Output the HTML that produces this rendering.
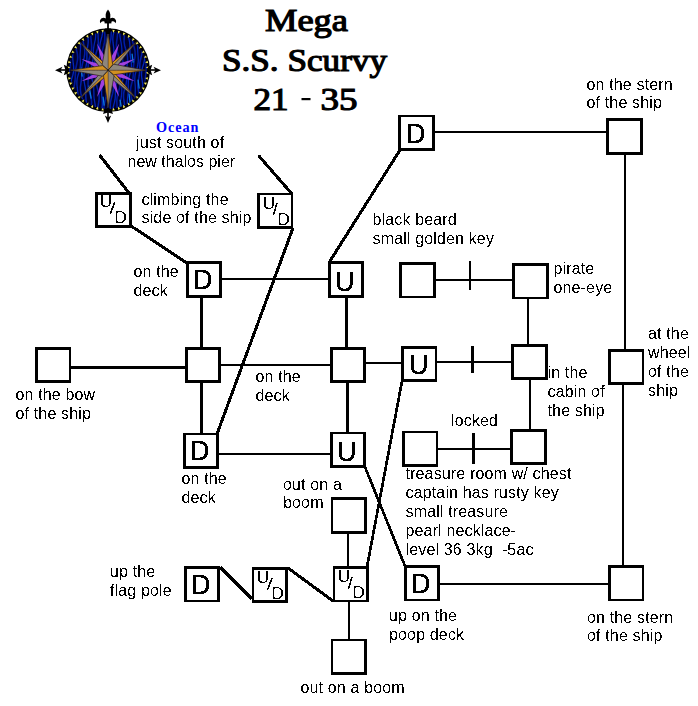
<!DOCTYPE html>
<html><head><meta charset="utf-8"><style>
html,body{margin:0;padding:0;background:#fff;width:698px;height:706px;overflow:hidden}
svg{position:absolute;left:0;top:0}
text{font-family:"Liberation Sans",sans-serif;fill:#000}
.lb{font-size:16px;letter-spacing:0.15px}
.bl{font-size:27.5px;stroke:#000;stroke-width:0.3px}
.ud{font-size:17px}
.tt{font-family:"Liberation Serif",serif;font-size:32.5px;font-weight:normal;stroke:#000;stroke-width:1.2px}
.oc{font-family:"Liberation Serif",serif;font-size:14.2px;font-weight:bold;fill:#0000ff;text-anchor:middle;letter-spacing:1.0px}
</style></head><body>
<svg width="698" height="706" viewBox="0 0 698 706">
<g transform="translate(108.1,70.2)">
<defs><clipPath id="cc"><circle r="39"/></clipPath></defs>
<circle r="41.9" fill="#000"/>
<circle r="39" fill="#00002c"/>
<g clip-path="url(#cc)" fill="none">
<polyline points="-41.6,-40 -41.3,-37 -41.1,-34 -41.1,-31 -41.2,-28 -41.2,-25 -40.9,-22 -40.2,-19 -39.3,-16 -38.5,-13 -38.0,-10 -37.8,-7 -38.1,-4 -38.6,-1 -39.0,2 -39.2,5 -39.2,8 -39.2,11 -39.4,14 -39.9,17 -40.6,20 -41.5,23 -42.1,26 -42.3,29 -42.1,32 -41.6,35 -41.0,38 -40.6,41" stroke="#001ea8" stroke-width="1.5" stroke-linejoin="round"/>
<polyline points="-38.6,-40 -38.6,-37 -38.2,-34 -37.5,-31 -36.6,-28 -35.9,-25 -35.5,-22 -35.3,-19 -35.4,-16 -35.4,-13 -35.2,-10 -34.9,-7 -34.5,-4 -34.4,-1 -34.6,2 -35.3,5 -36.2,8 -37.0,11 -37.6,14 -37.9,17 -37.8,20 -37.7,23 -37.6,26 -37.7,29 -38.0,32 -38.1,35 -38.0,38 -37.5,41" stroke="#0026bc" stroke-width="1.3" stroke-linejoin="round"/>
<polyline points="-33.8,-40 -33.4,-37 -33.3,-34 -33.3,-31 -33.1,-28 -32.7,-25 -32.1,-22 -31.3,-19 -30.7,-16 -30.4,-13 -30.6,-10 -31.2,-7 -31.8,-4 -32.4,-1 -32.7,2 -32.8,5 -32.9,8 -33.1,11 -33.5,14 -34.2,17 -34.8,20 -35.2,23 -35.1,26 -34.6,29 -33.8,32 -33.1,35 -32.6,38 -32.3,41" stroke="#001898" stroke-width="1.6" stroke-linejoin="round"/>
<polyline points="-30.8,-40 -30.2,-37 -29.3,-34 -28.4,-31 -27.7,-28 -27.5,-25 -27.6,-22 -27.8,-19 -28.0,-16 -28.0,-13 -27.8,-10 -27.7,-7 -27.8,-4 -28.3,-1 -29.1,2 -30.0,5 -30.8,8 -31.2,11 -31.2,14 -30.9,17 -30.5,20 -30.2,23 -30.2,26 -30.3,29 -30.2,32 -29.9,35 -29.3,38 -28.4,41" stroke="#0022b0" stroke-width="1.3" stroke-linejoin="round"/>
<polyline points="-25.4,-40 -25.3,-37 -25.3,-34 -25.1,-31 -24.8,-28 -24.2,-25 -23.6,-22 -23.3,-19 -23.4,-16 -23.9,-13 -24.7,-10 -25.5,-7 -26.1,-4 -26.4,-1 -26.4,2 -26.4,5 -26.5,8 -26.9,11 -27.3,14 -27.7,17 -27.7,20 -27.3,23 -26.6,26 -25.7,29 -24.9,32 -24.5,35 -24.3,38 -24.4,41" stroke="#001ea8" stroke-width="1.5" stroke-linejoin="round"/>
<polyline points="-22.0,-40 -21.1,-37 -20.3,-34 -19.9,-31 -19.9,-28 -20.2,-25 -20.7,-22 -21.1,-19 -21.2,-16 -21.2,-13 -21.3,-10 -21.5,-7 -22.1,-4 -22.9,-1 -23.7,2 -24.2,5 -24.3,8 -24.0,11 -23.5,14 -22.9,17 -22.5,20 -22.3,23 -22.3,26 -22.1,29 -21.8,32 -21.2,35 -20.4,38 -19.8,41" stroke="#0026bc" stroke-width="1.3" stroke-linejoin="round"/>
<polyline points="-17.3,-40 -17.4,-37 -17.3,-34 -17.1,-31 -16.8,-28 -16.5,-25 -16.4,-22 -16.8,-19 -17.5,-16 -18.4,-13 -19.3,-10 -19.8,-7 -19.9,-4 -19.8,-1 -19.6,2 -19.6,5 -19.8,8 -20.0,11 -20.1,14 -19.9,17 -19.2,20 -18.4,23 -17.5,26 -16.8,29 -16.5,32 -16.6,35 -16.9,38 -17.2,41" stroke="#001898" stroke-width="1.6" stroke-linejoin="round"/>
<polyline points="-13.1,-40 -12.5,-37 -12.4,-34 -12.7,-31 -13.4,-28 -14.0,-25 -14.5,-22 -14.8,-19 -14.8,-16 -14.9,-13 -15.2,-10 -15.7,-7 -16.4,-4 -16.9,-1 -17.2,2 -17.0,5 -16.4,8 -15.6,11 -14.9,14 -14.4,17 -14.3,20 -14.2,23 -14.2,26 -13.9,29 -13.4,32 -12.9,35 -12.6,38 -12.6,41" stroke="#0022b0" stroke-width="1.3" stroke-linejoin="round"/>
<polyline points="-9.9,-40 -10.0,-37 -10.0,-34 -9.8,-31 -9.8,-28 -9.9,-25 -10.5,-22 -11.4,-19 -12.3,-16 -13.0,-13 -13.2,-10 -13.1,-7 -12.8,-4 -12.4,-1 -12.2,2 -12.2,5 -12.2,8 -12.1,11 -11.7,14 -11.0,17 -10.2,20 -9.4,23 -9.0,26 -9.0,29 -9.4,32 -9.9,35 -10.4,38 -10.6,41" stroke="#001ea8" stroke-width="1.5" stroke-linejoin="round"/>
<polyline points="-5.3,-40 -5.5,-37 -6.1,-34 -6.9,-31 -7.7,-28 -8.2,-25 -8.4,-22 -8.4,-19 -8.4,-16 -8.6,-13 -9.0,-10 -9.4,-7 -9.7,-4 -9.6,-1 -9.1,2 -8.3,5 -7.4,8 -6.7,11 -6.4,14 -6.3,17 -6.4,20 -6.5,23 -6.3,26 -6.0,29 -5.8,32 -5.8,35 -6.1,38 -6.9,41" stroke="#0026bc" stroke-width="1.3" stroke-linejoin="round"/>
<polyline points="-3.1,-40 -3.3,-37 -3.3,-34 -3.3,-31 -3.7,-28 -4.3,-25 -5.1,-22 -5.9,-19 -6.3,-16 -6.3,-13 -5.9,-10 -5.3,-7 -4.7,-4 -4.4,-1 -4.3,2 -4.2,5 -4.0,8 -3.6,11 -3.0,14 -2.2,17 -1.7,20 -1.6,23 -1.9,26 -2.6,29 -3.3,32 -3.9,35 -4.2,38 -4.3,41" stroke="#001898" stroke-width="1.6" stroke-linejoin="round"/>
<polyline points="1.0,-40 0.2,-37 -0.7,-34 -1.5,-31 -1.9,-28 -1.9,-25 -1.8,-22 -1.6,-19 -1.6,-16 -1.8,-13 -2.0,-10 -2.0,-7 -1.7,-4 -1.0,-1 -0.1,2 0.8,5 1.3,8 1.5,11 1.3,14 1.0,17 0.8,20 0.7,23 0.8,26 0.9,29 0.7,32 0.1,35 -0.7,38 -1.6,41" stroke="#0022b0" stroke-width="1.3" stroke-linejoin="round"/>
<polyline points="3.2,-40 3.1,-37 3.0,-34 2.7,-31 2.1,-28 1.5,-25 1.0,-22 0.8,-19 1.2,-16 1.8,-13 2.6,-10 3.3,-7 3.7,-4 3.8,-1 3.8,2 3.9,5 4.3,8 4.8,11 5.2,14 5.5,17 5.2,20 4.6,23 3.8,26 3.0,29 2.4,32 2.2,35 2.2,38 2.2,41" stroke="#001ea8" stroke-width="1.5" stroke-linejoin="round"/>
<polyline points="6.4,-40 5.5,-37 4.9,-34 4.7,-31 4.9,-28 5.3,-25 5.7,-22 5.8,-19 5.8,-16 5.8,-13 6.0,-10 6.4,-7 7.2,-4 8.1,-1 8.8,2 9.1,5 8.9,8 8.5,11 8.0,14 7.5,17 7.4,20 7.3,23 7.2,26 7.0,29 6.4,32 5.6,35 4.9,38 4.5,41" stroke="#0026bc" stroke-width="1.3" stroke-linejoin="round"/>
<polyline points="9.5,-40 9.5,-37 9.3,-34 8.9,-31 8.5,-28 8.3,-25 8.5,-22 9.1,-19 9.9,-16 10.8,-13 11.4,-10 11.7,-7 11.7,-4 11.6,-1 11.6,2 11.7,5 12.0,8 12.2,11 12.2,14 11.7,17 10.9,20 10.0,23 9.2,26 8.8,29 8.7,32 8.9,35 9.1,38 9.2,41" stroke="#001898" stroke-width="1.6" stroke-linejoin="round"/>
<polyline points="12.0,-40 11.7,-37 11.8,-34 12.3,-31 12.9,-28 13.4,-25 13.7,-22 13.8,-19 13.9,-16 14.1,-13 14.6,-10 15.2,-7 15.9,-4 16.3,-1 16.3,2 15.9,5 15.2,8 14.5,11 14.0,14 13.7,17 13.7,20 13.6,23 13.3,26 12.8,29 12.2,32 11.8,35 11.7,38 12.0,41" stroke="#0022b0" stroke-width="1.3" stroke-linejoin="round"/>
<polyline points="16.4,-40 16.4,-37 16.2,-34 16.0,-31 16.0,-28 16.5,-25 17.3,-22 18.2,-19 19.0,-16 19.4,-13 19.5,-10 19.3,-7 18.9,-4 18.7,-1 18.7,2 18.8,5 18.8,8 18.5,11 17.9,14 17.1,17 16.2,20 15.6,23 15.4,26 15.6,29 16.1,32 16.5,35 16.8,38 16.8,41" stroke="#001ea8" stroke-width="1.5" stroke-linejoin="round"/>
<polyline points="18.9,-40 19.3,-37 20.1,-34 20.9,-31 21.5,-28 21.8,-25 21.8,-22 21.9,-19 22.0,-16 22.4,-13 22.9,-10 23.3,-7 23.4,-4 23.1,-1 22.4,2 21.5,5 20.7,8 20.3,11 20.1,14 20.1,17 20.2,20 20.0,23 19.7,26 19.4,29 19.2,32 19.4,35 20.0,38 20.9,41" stroke="#0026bc" stroke-width="1.3" stroke-linejoin="round"/>
<polyline points="23.9,-40 23.9,-37 23.9,-34 24.1,-31 24.7,-28 25.5,-25 26.3,-22 26.9,-19 27.1,-16 26.9,-13 26.3,-10 25.8,-7 25.4,-4 25.3,-1 25.3,2 25.2,5 24.8,8 24.2,11 23.4,14 22.7,17 22.4,20 22.6,23 23.1,26 23.8,29 24.3,32 24.7,35 24.8,38 24.9,41" stroke="#001898" stroke-width="1.6" stroke-linejoin="round"/>
<polyline points="27.3,-40 28.2,-37 29.0,-34 29.6,-31 29.8,-28 29.7,-25 29.6,-22 29.6,-19 29.8,-16 30.1,-13 30.2,-10 30.0,-7 29.5,-4 28.6,-1 27.7,2 27.0,5 26.7,8 26.7,11 27.0,14 27.2,17 27.2,20 27.1,23 27.0,26 27.0,29 27.4,32 28.2,35 29.1,38 29.9,41" stroke="#0022b0" stroke-width="1.3" stroke-linejoin="round"/>
<polyline points="31.8,-40 31.9,-37 32.2,-34 32.7,-31 33.4,-28 34.1,-25 34.4,-22 34.3,-19 33.7,-16 33.0,-13 32.3,-10 31.8,-7 31.7,-4 31.6,-1 31.5,2 31.2,5 30.7,8 30.1,11 29.7,14 29.7,17 30.2,20 31.0,23 31.8,26 32.4,29 32.8,32 32.8,35 32.8,38 32.9,41" stroke="#001ea8" stroke-width="1.5" stroke-linejoin="round"/>
<polyline points="36.4,-40 37.2,-37 37.5,-34 37.5,-31 37.2,-28 36.9,-25 36.7,-22 36.7,-19 36.8,-16 36.7,-13 36.4,-10 35.7,-7 34.8,-4 34.0,-1 33.5,2 33.4,5 33.7,8 34.2,11 34.6,14 34.8,17 34.9,20 34.9,23 35.1,26 35.6,29 36.4,32 37.2,35 37.8,38 37.9,41" stroke="#0026bc" stroke-width="1.3" stroke-linejoin="round"/>
<polyline points="39.9,-40 40.1,-37 40.5,-34 41.0,-31 41.4,-28 41.4,-25 40.9,-22 40.1,-19 39.3,-16 38.6,-13 38.2,-10 38.1,-7 38.1,-4 38.1,-1 38.0,2 37.6,5 37.3,8 37.2,11 37.5,14 38.2,17 39.1,20 40.0,23 40.6,26 40.7,29 40.7,32 40.5,35 40.4,38 40.5,41" stroke="#001898" stroke-width="1.6" stroke-linejoin="round"/>
<line x1="-19" y1="16" x2="-17" y2="28" stroke="#0a78e0" stroke-width="1.3" stroke-linecap="round"/>
<line x1="24" y1="-16" x2="25" y2="-8" stroke="#0a78e0" stroke-width="1.3" stroke-linecap="round"/>
<line x1="21" y1="24" x2="22" y2="33" stroke="#0a78e0" stroke-width="1.3" stroke-linecap="round"/>
<line x1="-27" y1="-2" x2="-26" y2="6" stroke="#0a78e0" stroke-width="1.3" stroke-linecap="round"/>
<line x1="-5" y1="27" x2="-4" y2="35" stroke="#0a78e0" stroke-width="1.3" stroke-linecap="round"/>
<line x1="12" y1="30" x2="13" y2="36" stroke="#0a78e0" stroke-width="1.3" stroke-linecap="round"/>
<line x1="30" y1="10" x2="31" y2="18" stroke="#0a78e0" stroke-width="1.3" stroke-linecap="round"/>
</g>
<path d="M40.42 4.02L40.59 1.52L37.71 2.58z" fill="#f4ec58"/>
<path d="M39.50 9.48L40.01 7.04L37.01 7.69z" fill="#f4ec58"/>
<path d="M37.84 14.77L38.67 12.42L35.62 12.66z" fill="#f4ec58"/>
<path d="M35.47 19.79L36.62 17.57L33.56 17.39z" fill="#f4ec58"/>
<path d="M32.45 24.43L33.89 22.39L30.88 21.80z" fill="#f4ec58"/>
<path d="M28.82 28.63L30.53 26.80L27.63 25.80z" fill="#f4ec58"/>
<path d="M24.65 32.28L26.59 30.71L23.86 29.32z" fill="#f4ec58"/>
<path d="M20.03 35.34L22.16 34.04L19.64 32.30z" fill="#f4ec58"/>
<path d="M15.03 37.74L17.32 36.74L15.06 34.67z" fill="#f4ec58"/>
<path d="M9.75 39.43L12.16 38.76L10.20 36.40z" fill="#f4ec58"/>
<path d="M4.29 40.39L6.77 40.05L5.15 37.45z" fill="#f4ec58"/>
<path d="M-1.25 40.60L1.25 40.60L0.00 37.80z" fill="#f4ec58"/>
<path d="M-6.77 40.05L-4.29 40.39L-5.15 37.45z" fill="#f4ec58"/>
<path d="M-12.16 38.76L-9.75 39.43L-10.20 36.40z" fill="#f4ec58"/>
<path d="M-17.32 36.74L-15.03 37.74L-15.06 34.67z" fill="#f4ec58"/>
<path d="M-22.16 34.04L-20.03 35.34L-19.64 32.30z" fill="#f4ec58"/>
<path d="M-26.59 30.71L-24.65 32.28L-23.86 29.32z" fill="#f4ec58"/>
<path d="M-30.53 26.80L-28.82 28.63L-27.63 25.80z" fill="#f4ec58"/>
<path d="M-33.89 22.39L-32.45 24.43L-30.88 21.80z" fill="#f4ec58"/>
<path d="M-36.62 17.57L-35.47 19.79L-33.56 17.39z" fill="#f4ec58"/>
<path d="M-38.67 12.42L-37.84 14.77L-35.62 12.66z" fill="#f4ec58"/>
<path d="M-40.01 7.04L-39.50 9.48L-37.01 7.69z" fill="#f4ec58"/>
<path d="M-40.59 1.52L-40.42 4.02L-37.71 2.58z" fill="#f4ec58"/>
<path d="M-40.42 -4.02L-40.59 -1.52L-37.71 -2.58z" fill="#f4ec58"/>
<path d="M-39.50 -9.48L-40.01 -7.04L-37.01 -7.69z" fill="#f4ec58"/>
<path d="M-37.84 -14.77L-38.67 -12.42L-35.62 -12.66z" fill="#f4ec58"/>
<path d="M-35.47 -19.79L-36.62 -17.57L-33.56 -17.39z" fill="#f4ec58"/>
<path d="M-32.45 -24.43L-33.89 -22.39L-30.88 -21.80z" fill="#f4ec58"/>
<path d="M-28.82 -28.63L-30.53 -26.80L-27.63 -25.80z" fill="#f4ec58"/>
<path d="M-24.65 -32.28L-26.59 -30.71L-23.86 -29.32z" fill="#f4ec58"/>
<path d="M-20.03 -35.34L-22.16 -34.04L-19.64 -32.30z" fill="#f4ec58"/>
<path d="M-15.03 -37.74L-17.32 -36.74L-15.06 -34.67z" fill="#f4ec58"/>
<path d="M-9.75 -39.43L-12.16 -38.76L-10.20 -36.40z" fill="#f4ec58"/>
<path d="M-4.29 -40.39L-6.77 -40.05L-5.15 -37.45z" fill="#f4ec58"/>
<path d="M1.25 -40.60L-1.25 -40.60L0.00 -37.80z" fill="#f4ec58"/>
<path d="M6.77 -40.05L4.29 -40.39L5.15 -37.45z" fill="#f4ec58"/>
<path d="M12.16 -38.76L9.75 -39.43L10.20 -36.40z" fill="#f4ec58"/>
<path d="M17.32 -36.74L15.03 -37.74L15.06 -34.67z" fill="#f4ec58"/>
<path d="M22.16 -34.04L20.03 -35.34L19.64 -32.30z" fill="#f4ec58"/>
<path d="M26.59 -30.71L24.65 -32.28L23.86 -29.32z" fill="#f4ec58"/>
<path d="M30.53 -26.80L28.82 -28.63L27.63 -25.80z" fill="#f4ec58"/>
<path d="M33.89 -22.39L32.45 -24.43L30.88 -21.80z" fill="#f4ec58"/>
<path d="M36.62 -17.57L35.47 -19.79L33.56 -17.39z" fill="#f4ec58"/>
<path d="M38.67 -12.42L37.84 -14.77L35.62 -12.66z" fill="#f4ec58"/>
<path d="M40.01 -7.04L39.50 -9.48L37.01 -7.69z" fill="#f4ec58"/>
<path d="M40.59 -1.52L40.42 -4.02L37.71 -2.58z" fill="#f4ec58"/>
<path d="M2.94 -12.85L11.10 -26.79L7.01 -11.17L0 0z" fill="#a040e0"/>
<path d="M11.17 -7.01L26.79 -11.10L12.85 -2.94L0 0z" fill="#a040e0"/>
<path d="M12.85 2.94L26.79 11.10L11.17 7.01L0 0z" fill="#a040e0"/>
<path d="M7.01 11.17L11.10 26.79L2.94 12.85L0 0z" fill="#a040e0"/>
<path d="M-2.94 12.85L-11.10 26.79L-7.01 11.17L0 0z" fill="#a040e0"/>
<path d="M-11.17 7.01L-26.79 11.10L-12.85 2.94L0 0z" fill="#a040e0"/>
<path d="M-12.85 -2.94L-26.79 -11.10L-11.17 -7.01L0 0z" fill="#a040e0"/>
<path d="M-7.01 -11.17L-11.10 -26.79L-2.94 -12.85L0 0z" fill="#a040e0"/>
<path d="M0 0L3.82 -7.50L27.93 -27.93z" fill="#d29020"/>
<path d="M0 0L8.20 -3.11L27.93 -27.93z" fill="#8e867c"/>
<path d="M0 0L3.82 -7.50L27.93 -27.93L8.20 -3.11z" fill="none" stroke="#2a2018" stroke-width="0.7"/>
<path d="M0 0L27.93 -27.93" stroke="#3a3028" stroke-width="0.5"/>
<path d="M0 0L7.50 3.82L27.93 27.93z" fill="#d29020"/>
<path d="M0 0L3.11 8.20L27.93 27.93z" fill="#8e867c"/>
<path d="M0 0L7.50 3.82L27.93 27.93L3.11 8.20z" fill="none" stroke="#2a2018" stroke-width="0.7"/>
<path d="M0 0L27.93 27.93" stroke="#3a3028" stroke-width="0.5"/>
<path d="M0 0L-3.82 7.50L-27.93 27.93z" fill="#d29020"/>
<path d="M0 0L-8.20 3.11L-27.93 27.93z" fill="#8e867c"/>
<path d="M0 0L-3.82 7.50L-27.93 27.93L-8.20 3.11z" fill="none" stroke="#2a2018" stroke-width="0.7"/>
<path d="M0 0L-27.93 27.93" stroke="#3a3028" stroke-width="0.5"/>
<path d="M0 0L-8.20 -3.11L-27.93 -27.93z" fill="#8e867c"/>
<path d="M0 0L-3.82 -7.50L-27.93 -27.93z" fill="#d29020"/>
<path d="M0 0L-8.20 -3.11L-27.93 -27.93L-3.82 -7.50z" fill="none" stroke="#2a2018" stroke-width="0.7"/>
<path d="M0 0L-27.93 -27.93" stroke="#3a3028" stroke-width="0.5"/>
<path d="M0 0L-6.00 -5.50L0.00 -37.50z" fill="#8e867c"/>
<path d="M0 0L4.60 -5.50L0.00 -37.50z" fill="#d29020"/>
<path d="M0 0L-6.00 -5.50L0.00 -37.50L4.60 -5.50z" fill="none" stroke="#2a2018" stroke-width="0.7"/>
<path d="M0 0L0.00 -37.50" stroke="#3a3028" stroke-width="0.5"/>
<path d="M0 0L5.50 -6.00L37.50 -0.00z" fill="#8e867c"/>
<path d="M0 0L5.50 4.60L37.50 -0.00z" fill="#d29020"/>
<path d="M0 0L5.50 -6.00L37.50 -0.00L5.50 4.60z" fill="none" stroke="#2a2018" stroke-width="0.7"/>
<path d="M0 0L37.50 -0.00" stroke="#3a3028" stroke-width="0.5"/>
<path d="M0 0L6.00 5.50L0.00 37.50z" fill="#8e867c"/>
<path d="M0 0L-4.60 5.50L0.00 37.50z" fill="#d29020"/>
<path d="M0 0L6.00 5.50L0.00 37.50L-4.60 5.50z" fill="none" stroke="#2a2018" stroke-width="0.7"/>
<path d="M0 0L0.00 37.50" stroke="#3a3028" stroke-width="0.5"/>
<path d="M0 0L-5.50 6.00L-37.50 0.00z" fill="#8e867c"/>
<path d="M0 0L-5.50 -4.60L-37.50 0.00z" fill="#d29020"/>
<path d="M0 0L-5.50 6.00L-37.50 0.00L-5.50 -4.60z" fill="none" stroke="#2a2018" stroke-width="0.7"/>
<path d="M0 0L-37.50 0.00" stroke="#3a3028" stroke-width="0.5"/>
<circle r="1" fill="#202020"/>
</g>
<g fill="#000">
<rect x="148" y="69.2" width="10" height="1.6"/>
<rect x="58" y="69.2" width="10" height="1.6"/>
<rect x="107.2" y="109" width="1.6" height="9"/>
<rect x="107.1" y="19" width="1.8" height="12"/>
<path d="M161 70.2 L153.5 66.8 L155.5 70.2 L153.5 73.6 Z"/>
<path d="M55 70.2 L62.5 66.8 L60.5 70.2 L62.5 73.6 Z"/>
<path d="M108 123 L104.8 115.5 L108 117.5 L111.2 115.5 Z"/>
<path d="M146.5 70 L148.5 66.5 L152.2 64.8 L150.6 70 L152.2 75.2 L148.5 73.5 Z"/>
<path d="M69.5 70 L67.5 66.5 L63.8 64.8 L65.4 70 L63.8 75.2 L67.5 73.5 Z"/>
<path d="M108 107.5 L111.5 110 L113 114 L108 112.6 L103 114 L104.5 110 Z"/>
<path d="M108 9.6 C105.4 12.4 105 16 106.4 20.6 L109.6 20.6 C111 16 110.6 12.4 108 9.6 Z"/>
<path d="M107.4 19.8 C105.2 17.2 101.6 17 100 20.4 C99.7 21.4 100.1 22.8 100.8 23.2 C101.2 21.6 102.6 20.9 104.2 21.6 L107.4 23.6 Z"/>
<path d="M108.6 19.8 C110.8 17.2 114.4 17 116 20.4 C116.3 21.4 115.9 22.8 115.2 23.2 C114.8 21.6 113.4 20.9 111.8 21.6 L108.6 23.6 Z"/>
<rect x="104.6" y="21.4" width="6.8" height="2"/>
<path d="M105 28.5 L111 28.5 L110 34 L106 34 Z"/>
</g>
<path d="M435 131h171v2h-171zM222 278h106v2h-106zM436 279h76v2h-76zM469 261h2v29h-2zM71 366h114v3h-114zM221 364h109v2h-109zM366 362h35v2h-35zM437 361h74v2h-74zM471 346h3v27h-3zM219 453h111v2h-111zM438 448h72v2h-72zM472 433h3v31h-3zM440 583h168v2h-168zM200 298h3v49h-3zM200 383h3v50h-3zM345 298h3v49h-3zM346 383h3v49h-3zM347 534h2v32h-2zM348 602h2v37h-2zM527 299h2v45h-2zM529 380h2v49h-2zM624 155h2v194h-2zM622 385h2v180h-2zM398 115h37v2h-37zM398 148h37v3h-37zM398 115h3v36h-3zM432 115h3v36h-3zM606 118h37v3h-37zM606 152h37v3h-37zM606 118h3v37h-3zM640 118h3v37h-3zM95 192h37v3h-37zM95 225h37v3h-37zM95 192h3v36h-3zM129 192h3v36h-3zM257 193h36v2h-36zM257 226h36v3h-36zM257 193h3v36h-3zM291 193h2v36h-2zM186 261h36v3h-36zM186 295h36v3h-36zM186 261h3v37h-3zM219 261h3v37h-3zM328 261h36v3h-36zM328 295h36v3h-36zM328 261h3v37h-3zM361 261h3v37h-3zM399 262h37v3h-37zM399 296h37v2h-37zM399 262h3v36h-3zM433 262h3v36h-3zM512 263h37v3h-37zM512 297h37v2h-37zM512 263h3v36h-3zM546 263h3v36h-3zM35 347h36v3h-36zM35 380h36v3h-36zM35 347h3v36h-3zM69 347h2v36h-2zM185 347h36v3h-36zM185 380h36v3h-36zM185 347h3v36h-3zM218 347h3v36h-3zM330 347h36v3h-36zM330 380h36v3h-36zM330 347h3v36h-3zM363 347h3v36h-3zM401 346h36v3h-36zM401 379h36v3h-36zM401 346h3v36h-3zM435 346h2v36h-2zM511 344h37v3h-37zM511 377h37v3h-37zM511 344h3v36h-3zM545 344h3v36h-3zM608 349h36v3h-36zM608 382h36v3h-36zM608 349h3v36h-3zM642 349h2v36h-2zM183 433h36v2h-36zM183 466h36v3h-36zM183 433h3v36h-3zM216 433h3v36h-3zM330 432h36v2h-36zM330 465h36v3h-36zM330 432h3v36h-3zM363 432h3v36h-3zM402 431h36v2h-36zM402 464h36v3h-36zM402 431h3v36h-3zM436 431h2v36h-2zM510 429h37v3h-37zM510 462h37v3h-37zM510 429h3v36h-3zM544 429h3v36h-3zM331 497h36v3h-36zM331 531h36v3h-36zM331 497h2v37h-2zM364 497h3v37h-3zM184 566h36v3h-36zM184 600h36v2h-36zM184 566h3v36h-3zM217 566h3v36h-3zM252 567h36v3h-36zM252 600h36v3h-36zM252 567h2v36h-2zM285 567h3v36h-3zM333 566h36v3h-36zM333 600h36v2h-36zM333 566h2v36h-2zM366 566h3v36h-3zM404 565h36v3h-36zM404 599h36v2h-36zM404 565h3v36h-3zM437 565h3v36h-3zM608 565h36v3h-36zM608 599h36v2h-36zM608 565h3v36h-3zM642 565h2v36h-2zM331 639h36v2h-36zM331 672h36v3h-36zM331 639h2v36h-2zM364 639h3v36h-3z" fill="#000" shape-rendering="crispEdges"/>
<defs><filter id="crisp" x="0" y="0" width="698" height="706" filterUnits="userSpaceOnUse"><feComponentTransfer><feFuncA type="discrete" tableValues="0 1"/></feComponentTransfer></filter></defs>
<g filter="url(#crisp)">
<line x1="99.5" y1="155" x2="129" y2="193" stroke="#000" stroke-width="3"/>
<line x1="258.5" y1="155.5" x2="292" y2="194" stroke="#000" stroke-width="3"/>
<line x1="131" y1="226" x2="187" y2="263" stroke="#000" stroke-width="3"/>
<line x1="293" y1="228" x2="217" y2="434" stroke="#000" stroke-width="3"/>
<line x1="330" y1="261" x2="400" y2="150" stroke="#000" stroke-width="3"/>
<line x1="402" y1="381" x2="367" y2="567" stroke="#000" stroke-width="2.7"/>
<line x1="365" y1="467" x2="405" y2="566" stroke="#000" stroke-width="2.7"/>
<line x1="220" y1="567" x2="252" y2="599" stroke="#000" stroke-width="3"/>
<line x1="288" y1="568" x2="333" y2="601" stroke="#000" stroke-width="3"/>
<text x="405.7" y="143.3" class="bl">D</text>
<text x="192.7" y="289.3" class="bl">D</text>
<text x="334.7" y="291.3" class="bl">U</text>
<text x="408.7" y="374.3" class="bl">U</text>
<text x="189.7" y="460.3" class="bl">D</text>
<text x="336.7" y="461.3" class="bl">U</text>
<text x="190.7" y="594.3" class="bl">D</text>
<text x="410.7" y="593.3" class="bl">D</text>
<text x="99.8" y="207" class="ud">U</text>
<line x1="114.7" y1="202" x2="110.5" y2="213.5" stroke="#000" stroke-width="1.5"/>
<text x="114.6" y="223" class="ud">D</text>
<text x="262.8" y="209" class="ud">U</text>
<line x1="277" y1="203" x2="273.5" y2="214.5" stroke="#000" stroke-width="1.5"/>
<text x="277.6" y="225" class="ud">D</text>
<text x="256.8" y="583" class="ud">U</text>
<line x1="272" y1="578" x2="267.5" y2="590" stroke="#000" stroke-width="1.5"/>
<text x="271.6" y="599" class="ud">D</text>
<text x="337.8" y="582" class="ud">U</text>
<line x1="352" y1="577" x2="348.5" y2="588.5" stroke="#000" stroke-width="1.5"/>
<text x="352.6" y="598" class="ud">D</text>
<text x="136.0" y="147.8" class="lb">just south of</text>
<text x="127.5" y="166.8" class="lb" style="letter-spacing:0">new thalos pier</text>
<text x="141.5" y="204.8" class="lb">climbing the</text>
<text x="141.5" y="223.3" class="lb">side of the ship</text>
<text x="586.5" y="90.3" class="lb">on the stern</text>
<text x="586.5" y="108.3" class="lb">of the ship</text>
<text x="372.5" y="225.3" class="lb">black beard</text>
<text x="372.5" y="243.8" class="lb">small golden key</text>
<text x="133.5" y="277.3" class="lb">on the</text>
<text x="133.5" y="296.3" class="lb">deck</text>
<text x="553.5" y="273.8" class="lb">pirate</text>
<text x="553.5" y="292.8" class="lb">one-eye</text>
<text x="15.5" y="400.3" class="lb">on the bow</text>
<text x="15.5" y="419.3" class="lb">of the ship</text>
<text x="255.5" y="382.3" class="lb">on the</text>
<text x="255.5" y="401.3" class="lb">deck</text>
<text x="547.5" y="377.8" class="lb">in the</text>
<text x="547.5" y="396.8" class="lb">cabin of</text>
<text x="547.5" y="415.8" class="lb">the ship</text>
<text x="648.0" y="339.3" class="lb">at the</text>
<text x="648.0" y="358.3" class="lb">wheel</text>
<text x="648.0" y="377.3" class="lb">of the</text>
<text x="648.0" y="395.8" class="lb">ship</text>
<text x="451.0" y="425.8" class="lb">locked</text>
<text x="181.5" y="483.8" class="lb">on the</text>
<text x="181.5" y="502.8" class="lb">deck</text>
<text x="283.0" y="489.8" class="lb">out on a</text>
<text x="283.0" y="507.8" class="lb">boom</text>
<text x="405.5" y="479.3" class="lb">treasure room w/ chest</text>
<text x="405.5" y="498.1" class="lb">captain has rusty key</text>
<text x="405.5" y="517.0" class="lb">small treasure</text>
<text x="405.5" y="535.8" class="lb">pearl necklace-</text>
<text x="405.5" y="554.6" class="lb">level 36 3kg&#160; -5ac</text>
<text x="110.0" y="577.3" class="lb">up the</text>
<text x="110.0" y="596.1" class="lb">flag pole</text>
<text x="389.0" y="620.8" class="lb">up on the</text>
<text x="389.0" y="639.8" class="lb">poop deck</text>
<text x="587.0" y="622.6" class="lb">on the stern</text>
<text x="587.0" y="641.3" class="lb">of the ship</text>
<text x="300.5" y="693.3" class="lb">out on a boom</text>
</g>
<text x="265" y="31" class="tt" textLength="83" lengthAdjust="spacingAndGlyphs">Mega</text>
<text x="222" y="71" class="tt" textLength="165" lengthAdjust="spacingAndGlyphs">S.S. Scurvy</text>
<text x="253.5" y="110" class="tt" textLength="35" lengthAdjust="spacingAndGlyphs">21</text>
<rect x="301.5" y="98" width="9" height="2.2" fill="#000"/>
<text x="320.5" y="110" class="tt" textLength="37" lengthAdjust="spacingAndGlyphs">35</text>
<text x="177.7" y="131.7" class="oc">Ocean</text>
</svg>
</body></html>
